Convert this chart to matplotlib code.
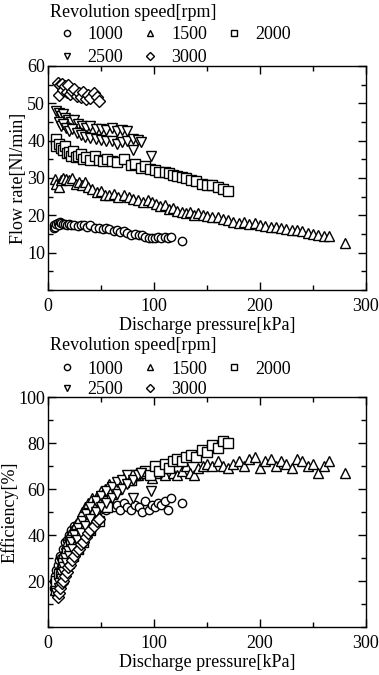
import numpy as np
import matplotlib
matplotlib.use("Agg")
import matplotlib.pyplot as plt
from matplotlib.ticker import MultipleLocator

plt.rcParams['font.family'] = ['Liberation Serif', 'DejaVu Serif']

# ---- data ----
# 1000 rpm
p_1000 = [6, 6, 7, 8, 9, 10, 11, 12, 14, 16, 18, 20, 22, 25, 28, 31, 34, 37, 40, 44, 48, 52,
          55, 58, 62, 65, 68, 72, 75, 78, 82, 86, 89, 92, 95, 98, 101, 104, 107, 110, 113, 116, 126]
q_1000 = [16.5, 17.3, 16.8, 17.8, 18, 17.5, 18.3, 18, 17.6, 17.8, 17.4, 17.6, 17.3, 17.4, 17.2,
          17.5, 17.4, 17, 17.5, 16.6, 16.5, 16.3, 16.6, 16.2, 15.8, 16, 15.6, 15.8, 15.2, 14.8,
          15, 14.6, 14.7, 14.2, 13.9, 14, 13.9, 14.1, 13.9, 14.1, 13.8, 14.2, 13]
e_1000 = [17, 20, 22, 25, 27, 29, 31, 30, 34, 37, 38, 40, 42, 44, 45, 47, 48, 47, 50, 50, 51, 52,
          51, 53, 52, 53, 51, 54, 52, 51, 53, 52, 50, 55, 51, 53, 52, 54, 53, 55, 51, 56, 54]

# 1500 rpm
p_1500 = [7, 8, 10, 12, 14, 17, 20, 23, 26, 29, 32, 35, 38, 42, 46, 50, 54, 58, 62, 66, 72, 76,
          80, 85, 90, 94, 98, 102, 106, 110, 114, 118, 122, 126, 130, 134, 138, 142, 146, 150,
          155, 160, 165, 170, 175, 180, 185, 190, 195, 200, 205, 210, 215, 220, 225, 230, 235,
          240, 245, 250, 255, 260, 265, 280]
q_1500 = [29.8, 28.5, 27.5, 29.5, 30, 29.8, 29.5, 30, 28.5, 29, 28.2, 28.8, 27.5, 27, 26.2, 26.5,
          25.5, 25.5, 25.8, 24.8, 25.5, 25, 24.5, 24.2, 23.5, 24.2, 23.5, 23.0, 22.5, 22.8, 21.8,
          22, 21.2, 21, 20.5, 20.8, 20.2, 20.5, 20, 19.8, 19.5, 19.5, 19, 18.8, 18.2, 18, 18.3,
          17.8, 18, 17.5, 17.2, 17, 16.8, 16.5, 16.3, 16, 16, 15.8, 15.2, 15, 14.8, 14.5, 14.5, 12.5]
e_1500 = [16, 20, 24, 28, 32, 36, 40, 42, 45, 47, 50, 52, 54, 56, 57, 59, 60, 62, 61, 63, 65, 64,
          66, 66, 67, 68, 65, 67, 68, 66, 69, 67, 66, 68, 70, 67, 66, 69, 70, 71, 70, 72, 70, 69,
          71, 72, 70, 73, 74, 69, 72, 73, 70, 72, 71, 69, 73, 72, 70, 71, 67, 70, 72, 67]

# 2000 rpm
p_2000 = [8, 8, 10, 12, 14, 16, 18, 20, 22, 24, 26, 28, 31, 33, 36, 40, 44, 48, 52, 56, 60, 65,
          72, 78, 82, 88, 92, 96, 101, 105, 110, 114, 118, 122, 126, 130, 135, 140, 145, 150,
          155, 160, 165, 170]
q_2000 = [40.5, 38.5, 39, 38, 37.5, 38.5, 36.8, 37, 36, 37.2, 35.5, 36, 36.4, 35, 35.5, 34.8,
          35.8, 34.8, 34.5, 35, 34.5, 34.2, 35, 33.5, 33.8, 32.8, 33.2, 32.5, 32.2, 31.5, 31.5,
          31.2, 30.8, 30.5, 30.2, 30, 29.5, 29.2, 28.5, 28.2, 28, 27.5, 27, 26.5]
e_2000 = [16, 20, 23, 22, 28, 26, 32, 28, 36, 31, 39, 34, 42, 37, 45, 42, 49, 46, 54, 52, 58, 60,
          63, 64, 66, 67, 68, 66, 70, 68, 71, 69, 72, 73, 72, 74, 75, 74, 77, 76, 79, 78, 81, 80]

# 2500 rpm
p_2500 = [8, 10, 12, 14, 16, 19, 22, 25, 28, 32, 36, 40, 45, 50, 55, 60, 65, 70, 75,
          10, 12, 14, 17, 20, 23, 27, 31, 35, 40, 45, 50, 55, 60, 65, 70, 75, 80, 85, 88,
          80, 97]
q_2500 = [48, 47.5, 46.5, 47, 46, 45.5, 45, 45.5, 44.5, 44, 43.5, 43.8, 43, 43.2, 42.8, 43.5,
          42.5, 42.8, 42.5,
          45, 44, 44.5, 43.5, 42.5, 43, 42, 41.5, 41, 40.8, 40.5, 40.2, 40, 39.8, 39.2, 39.5,
          40, 40.5, 40.3, 39.5,
          37.5, 35.8]
e_2500 = [15, 19, 23, 26, 30, 33, 37, 40, 43, 46, 49, 52, 55, 57, 59, 61, 63, 64, 66,
          17, 21, 24, 28, 31, 34, 38, 41, 44, 47, 50, 52, 54, 56, 58, 60, 62, 64, 66, 67,
          56, 59]

# 3000 rpm
p_3000 = [9, 10, 11, 13, 14, 16, 18, 19, 21, 23, 25, 27, 29, 31, 33, 36, 38, 40, 43, 46, 48]
q_3000 = [55.5, 52.3, 54.8, 55.2, 53.5, 54.5, 53, 54.8, 52.5, 53.2, 53.8, 52, 52.8, 51.8, 53,
          51.2, 52.3, 51.5, 52.8, 51.8, 50.7]
e_3000 = [13, 15, 17, 19, 20, 22, 24, 26, 27, 29, 31, 33, 34, 36, 37, 39, 41, 42, 44, 46, 47]

speeds = ['1000', '1500', '2000', '2500', '3000']
markers = ['o', '^', 's', 'v', 'D']
msizes = [6, 6.5, 6.5, 6.5, 6]
pressures = [p_1000, p_1500, p_2000, p_2500, p_3000]
flows = [q_1000, q_1500, q_2000, q_2500, q_3000]
effs = [e_1000, e_1500, e_2000, e_2500, e_3000]

fs = 13
fig = plt.figure(figsize=(3.79, 6.75), dpi=100)
ax1 = fig.add_axes([0.1266, 0.5704, 0.839, 0.3319])
ax2 = fig.add_axes([0.1266, 0.0711, 0.839, 0.3407])


def draw(ax, ydata, ylabel, ymax, yticks, yminor, title_y, leg_y, lspace):
    handles = []
    for i in range(len(speeds)):
        h, = ax.plot(pressures[i], ydata[i], linestyle='none', marker=markers[i],
                     markersize=msizes[i], markerfacecolor='white',
                     markeredgecolor='black', markeredgewidth=1.0, label=speeds[i])
        handles.append(h)
    ax.set_xlim(0, 300)
    ax.set_ylim(0, ymax)
    ax.xaxis.set_major_locator(MultipleLocator(100))
    ax.xaxis.set_minor_locator(MultipleLocator(50))
    ax.set_yticks(yticks)
    ax.yaxis.set_minor_locator(MultipleLocator(yminor))
    ax.tick_params(which='both', direction='in', top=True, right=True, labelsize=fs)
    ax.tick_params(axis='x', pad=6)
    ax.tick_params(axis='y', pad=2)
    ax.tick_params(which='major', length=6, width=1)
    ax.tick_params(which='minor', length=3.5, width=1)
    for s in ax.spines.values():
        s.set_linewidth(1.0)
    ax.set_xlabel('Discharge pressure[kPa]', fontsize=fs, labelpad=1)
    ax.set_ylabel(ylabel, fontsize=fs, labelpad=0)
    ax.text(0.006, title_y, 'Revolution speed[rpm]', transform=ax.transAxes,
            fontsize=fs, ha='left', va='center')
    order = [0, 3, 1, 4, 2]
    ax.legend([handles[k] for k in order], [speeds[k] for k in order],
              ncol=3, loc='upper left', bbox_to_anchor=(0.031, leg_y),
              frameon=False, fontsize=fs, markerscale=0.75,
              handlelength=1.0, handletextpad=0.65, columnspacing=1.0,
              labelspacing=lspace, borderpad=0.0, borderaxespad=0.0)


draw(ax1, flows, 'Flow rate[Nl/min]', 60, [10, 20, 30, 40, 50, 60], 5, 1.237, 1.177, 0.32)
draw(ax2, effs, 'Efficiency[%]', 100, [20, 40, 60, 80, 100], 10, 1.226, 1.158, 0.18)

fig.savefig('out.png', dpi=100)
